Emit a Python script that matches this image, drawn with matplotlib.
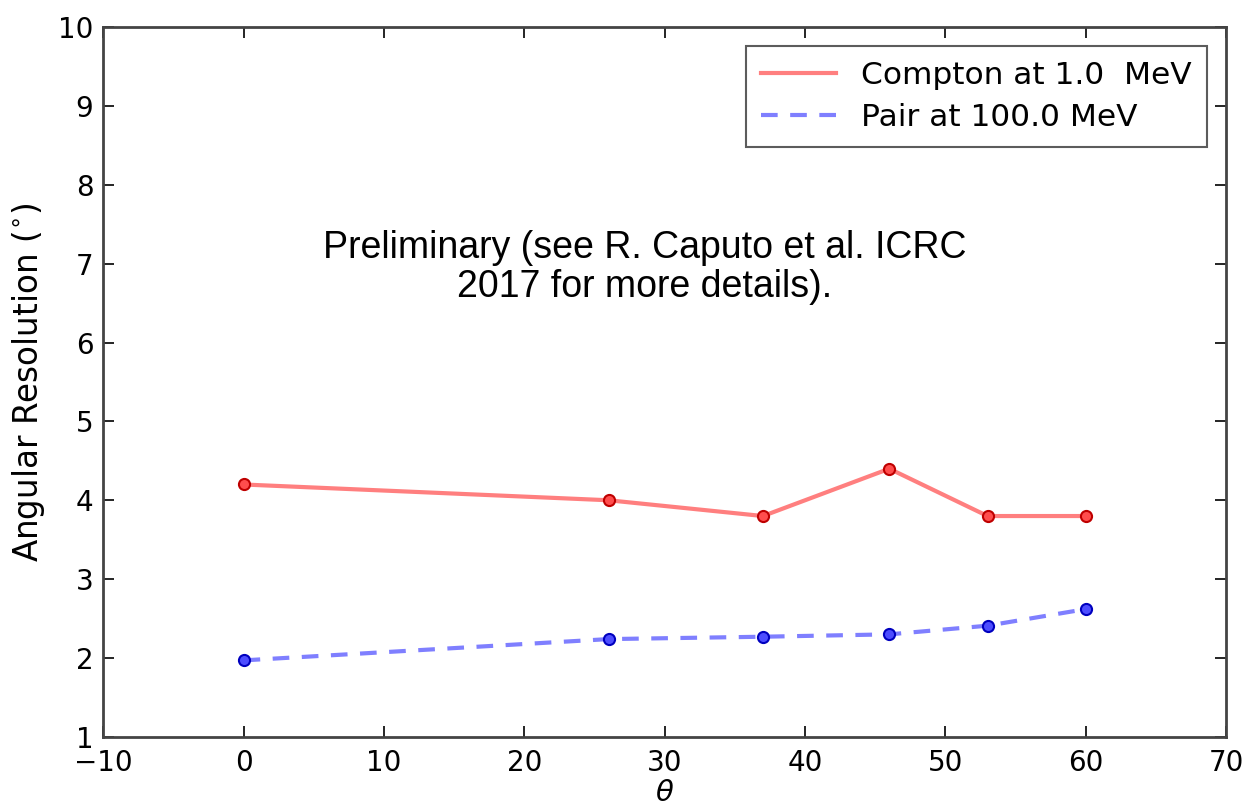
import matplotlib
matplotlib.use('Agg')
import matplotlib.pyplot as plt

# viewing angle (deg) and angular resolution (deg)
theta = [0, 26, 37, 46, 53, 60]
compton_res = [4.2, 4.0, 3.8, 4.4, 3.8, 3.8]
pair_res = [1.97, 2.24, 2.27, 2.30, 2.41, 2.62]

compton_label = 'Compton at 1.0  MeV'
pair_label = 'Pair at 100.0 MeV'
note = 'Preliminary (see R. Caputo et al. ICRC\n2017 for more details).'

fig = plt.figure(figsize=(12.43, 8.08), dpi=100)
ax = fig.add_axes([0.083, 0.088, 0.9035, 0.8786])

ax.plot(theta, compton_res, color='r', lw=3, alpha=0.5, label=compton_label)
ax.plot(theta, compton_res, 'o', ms=8, mfc=(1, 0.3, 0.3), mec=(0.75, 0, 0), mew=1.5)
ax.plot(theta, pair_res, color='b', lw=3, ls='--', dashes=(4, 3), alpha=0.5, label=pair_label)
ax.plot(theta, pair_res, 'o', ms=8, mfc=(0.3, 0.3, 1), mec=(0, 0, 0.75), mew=1.5)

ax.set_xlim(-10, 70)
ax.set_ylim(1, 10)
ax.set_xticks(range(-10, 71, 10))
ax.set_yticks(range(1, 11))
ax.tick_params(direction='in', top=True, right=True, length=8, width=1.2,
               labelsize=20)
ax.tick_params(axis='x', pad=9)
ax.tick_params(axis='y', pad=7)
for s in ax.spines.values():
    s.set_linewidth(2)
    s.set_color('#444444')

ax.set_xlabel(r'$\theta$', fontsize=21, labelpad=1)
ax.set_ylabel(r'Angular Resolution ($^{\circ}$)', fontsize=23.5, labelpad=8)

ax.text(28.6, 6.95, note, ha='center', va='center', fontsize=27,
        family='Liberation Sans', linespacing=1.1)

leg = ax.legend(loc='upper right', fontsize=22.5, fancybox=False,
                handlelength=2.4, borderpad=0.5, labelspacing=0.4,
                borderaxespad=0.6)
leg.get_frame().set_edgecolor('#333333')
leg.get_frame().set_linewidth(1.5)

fig.savefig('out.png', dpi=100)
